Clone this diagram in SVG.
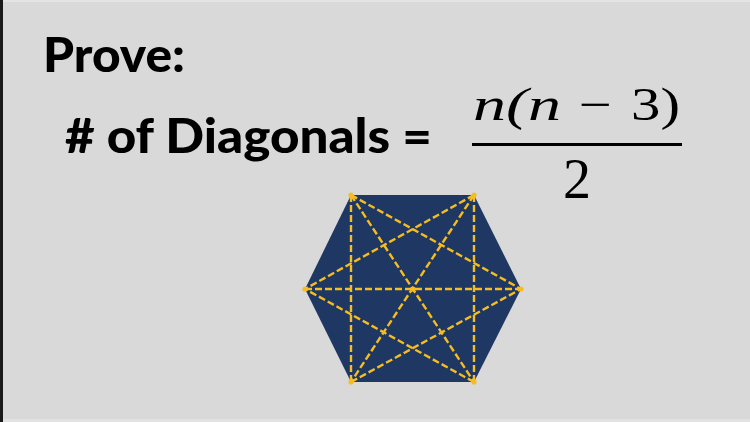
<svg xmlns="http://www.w3.org/2000/svg" width="750" height="422" viewBox="0 0 750 422">
  <style>
    .head { font-family: Lato, "Liberation Sans", sans-serif; font-weight: 900; fill: #000; }
    .math { font-family: "Liberation Serif", "DejaVu Serif", serif; fill: #000; }
    .diag { stroke: #f5bd1f; stroke-width: 2.4; stroke-dasharray: 7 3; fill: none; }
    .vtx { fill: #f5bd1f; }
  </style>
  <rect x="0" y="0" width="750" height="422" fill="#d9d9d9"/>
  <rect x="0" y="0" width="750" height="2" fill="#e4e4e4"/>
  <rect x="0" y="419" width="750" height="3" fill="#e2e2e2"/>
  <rect x="0" y="0" width="3" height="422" fill="#1a1a1a"/>

  <g id="title">
    <text class="head" x="43" y="72" font-size="47" textLength="142" lengthAdjust="spacingAndGlyphs">Prove:</text>
  </g>
  <g id="label">
    <text class="head" x="65" y="153" font-size="47" textLength="367" lengthAdjust="spacingAndGlyphs"># of Diagonals =</text>
  </g>
  <g id="formula">
    <text class="math" x="473" y="120" font-size="46" font-style="italic" textLength="88" lengthAdjust="spacingAndGlyphs">n(n</text>
    <text class="math" x="579" y="120" font-size="46" textLength="33" lengthAdjust="spacingAndGlyphs">−</text>
    <text class="math" x="631" y="120" font-size="46" textLength="49" lengthAdjust="spacingAndGlyphs">3)</text>
    <rect x="472" y="143" width="210" height="3" fill="#000"/>
    <text class="math" x="577" y="198" font-size="56" text-anchor="middle">2</text>
  </g>

  <g id="hexagon">
    <polygon points="351,195 474,195 521,289 474,382 351,382 305,289" fill="#1f3763"/>
  </g>
  <g id="diagonals">
    <line class="diag" x1="351" y1="195" x2="351" y2="382"/>
    <line class="diag" x1="474" y1="195" x2="474" y2="382"/>
    <line class="diag" x1="305" y1="289" x2="521" y2="289"/>
    <line class="diag" x1="351" y1="195" x2="521" y2="289"/>
    <line class="diag" x1="351" y1="195" x2="474" y2="382"/>
    <line class="diag" x1="474" y1="195" x2="305" y2="289"/>
    <line class="diag" x1="474" y1="195" x2="351" y2="382"/>
    <line class="diag" x1="351" y1="382" x2="521" y2="289"/>
    <line class="diag" x1="474" y1="382" x2="305" y2="289"/>
  </g>
  <g id="vertices">
    <circle class="vtx" cx="351" cy="195" r="2.6"/>
    <circle class="vtx" cx="474" cy="195" r="2.6"/>
    <circle class="vtx" cx="521" cy="289" r="2.6"/>
    <circle class="vtx" cx="474" cy="382" r="2.6"/>
    <circle class="vtx" cx="351" cy="382" r="2.6"/>
    <circle class="vtx" cx="305" cy="289" r="2.6"/>
    <circle class="vtx" cx="413" cy="289" r="2.6"/>
  </g>
</svg>
